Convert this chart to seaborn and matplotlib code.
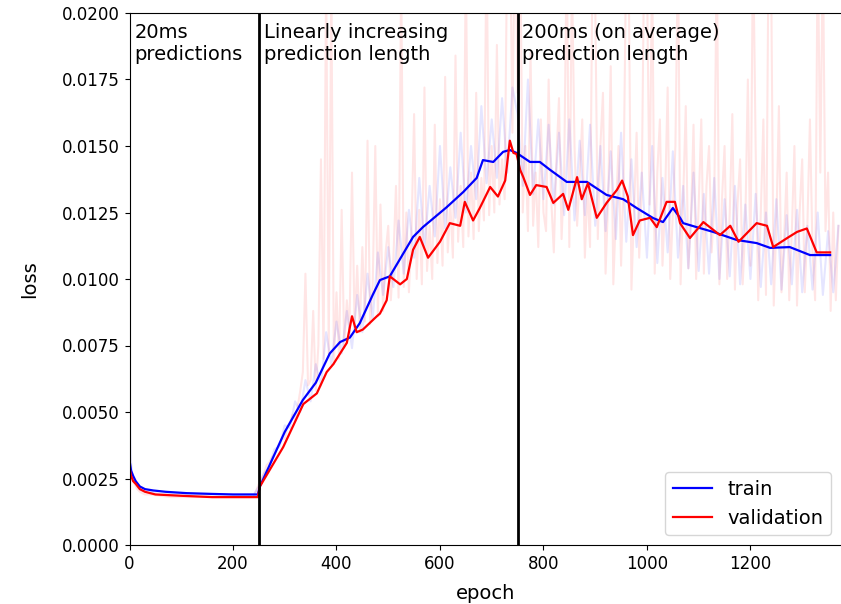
import numpy as np
import pandas as pd
import seaborn as sns
from matplotlib import pyplot as plt

# raw (unsmoothed) losses: phase 1 sampled irregularly, later phases sampled densely
raw_epochs_p1 = [0, 1, 2, 4, 6, 10, 15, 20, 30, 40, 60, 80, 100, 150, 200, 240]
raw_train_p1 = [0.0095, 0.0045, 0.0034, 0.0029, 0.0026, 0.0024, 0.0022, 0.0021,
                0.0020, 0.0020, 0.0019, 0.0019, 0.0019, 0.0019, 0.0019, 0.0019]
raw_val_p1 = [0.0036, 0.0030, 0.0028, 0.0026, 0.0025, 0.0023, 0.0021, 0.0020,
              0.0019, 0.0019, 0.00185, 0.0018, 0.0018, 0.0018, 0.0018, 0.0018]

# train raw, every 10 epochs from 250
raw_train_epochs = list(range(250, 1380, 10))
raw_train_rest = [
    0.0022, 0.0027, 0.0029, 0.0036, 0.0037, 0.0045, 0.0044, 0.0054, 0.0050, 0.0062,
    0.0054, 0.0068, 0.0060, 0.0080, 0.0068, 0.0084, 0.0072, 0.0088, 0.0074, 0.0094,
    0.0080, 0.0102, 0.0085, 0.0110, 0.0094, 0.0112, 0.0097, 0.0122, 0.0102, 0.0126,
    0.0108, 0.0138, 0.0112, 0.0135, 0.0116, 0.0150, 0.0119, 0.0142, 0.0123, 0.0155,
    0.0125, 0.0150, 0.0130, 0.0165, 0.0136, 0.0160, 0.0138, 0.0168, 0.0140, 0.0172,
    0.0162, 0.0135, 0.0175, 0.0132, 0.0160, 0.0130, 0.0158, 0.0128, 0.0155, 0.0124,
    0.0160, 0.0122, 0.0152, 0.0124, 0.0158, 0.0120, 0.0150, 0.0118, 0.0148, 0.0115,
    0.0155, 0.0114, 0.0145, 0.0112, 0.0140, 0.0108, 0.0150, 0.0106, 0.0138, 0.0110,
    0.0148, 0.0108, 0.0135, 0.0104, 0.0140, 0.0103, 0.0132, 0.0102, 0.0138, 0.0100,
    0.0130, 0.0101, 0.0135, 0.0098, 0.0128, 0.0100, 0.0132, 0.0097, 0.0125, 0.0098,
    0.0130, 0.0096, 0.0124, 0.0098, 0.0126, 0.0095, 0.0120, 0.0096, 0.0125, 0.0094,
    0.0118, 0.0095, 0.0120]

# validation raw, every 5 epochs from 250
raw_val_epochs = list(range(250, 1375, 5))
raw_val_rest = [
    0.0023, 0.0025, 0.0027, 0.0030, 0.0031, 0.0033, 0.0034, 0.0036, 0.0038, 0.0040,
    0.0040, 0.0044, 0.0046, 0.0049, 0.0047, 0.0052, 0.0058, 0.0065, 0.0102, 0.0060,
    0.0062, 0.0088, 0.0058, 0.0075, 0.0145, 0.0070, 0.0215, 0.0072, 0.0210, 0.0068,
    0.0095, 0.0070, 0.0126, 0.0074, 0.0092, 0.0080, 0.0140, 0.0082, 0.0105, 0.0080,
    0.0112, 0.0084, 0.0152, 0.0083, 0.0098, 0.0150, 0.0086, 0.0128, 0.0088, 0.0110,
    0.0120, 0.0092, 0.0108, 0.0135, 0.0093, 0.0215, 0.0097, 0.0125, 0.0095, 0.0118,
    0.0162, 0.0100, 0.0126, 0.0098, 0.0172, 0.0103, 0.0120, 0.0100, 0.0158, 0.0106,
    0.0130, 0.0105, 0.0176, 0.0110, 0.0128, 0.0108, 0.0184, 0.0114, 0.0135, 0.0112,
    0.0220, 0.0116, 0.0140, 0.0115, 0.0170, 0.0118, 0.0138, 0.0122, 0.0230, 0.0124,
    0.0150, 0.0125, 0.0188, 0.0128, 0.0145, 0.0130, 0.0230, 0.0240, 0.0155, 0.0240,
    0.0170, 0.0230, 0.0125, 0.0150, 0.0118, 0.0185, 0.0120, 0.0140, 0.0112, 0.0160,
    0.0125, 0.0118, 0.0175, 0.0130, 0.0110, 0.0145, 0.0168, 0.0115, 0.0140, 0.0225,
    0.0112, 0.0215, 0.0150, 0.0120, 0.0138, 0.0160, 0.0108, 0.0135, 0.0112, 0.0225,
    0.0205, 0.0115, 0.0150, 0.0170, 0.0102, 0.0130, 0.0180, 0.0098, 0.0125, 0.0150,
    0.0105, 0.0140, 0.0225, 0.0210, 0.0096, 0.0125, 0.0155, 0.0108, 0.0135, 0.0230,
    0.0215, 0.0128, 0.0220, 0.0102, 0.0140, 0.0160, 0.0105, 0.0130, 0.0172, 0.0100,
    0.0125, 0.0150, 0.0225, 0.0098, 0.0130, 0.0165, 0.0104, 0.0122, 0.0158, 0.0100,
    0.0128, 0.0160, 0.0102, 0.0135, 0.0150, 0.0110, 0.0128, 0.0225, 0.0098, 0.0130,
    0.0150, 0.0100, 0.0125, 0.0162, 0.0096, 0.0128, 0.0145, 0.0098, 0.0120, 0.0175,
    0.0105, 0.0230, 0.0150, 0.0092, 0.0125, 0.0160, 0.0094, 0.0225, 0.0215, 0.0090,
    0.0120, 0.0165, 0.0095, 0.0115, 0.0140, 0.0092, 0.0118, 0.0150, 0.0090, 0.0125,
    0.0145, 0.0095, 0.0120, 0.0160, 0.0110, 0.0092, 0.0230, 0.0140, 0.0225, 0.0118,
    0.0140, 0.0088, 0.0125, 0.0092, 0.0120]

# smoothed curves
train_epochs = [0, 3, 7, 12, 20, 30, 46, 70, 110, 160, 200, 240, 248, 252, 300, 335,
                360, 387, 407, 426, 445, 470, 484, 503, 548, 567, 613, 645, 671, 683,
                703, 722, 735, 748, 774, 793, 813, 845, 884, 922, 954, 980, 1012, 1031,
                1050, 1064, 1070, 1096, 1128, 1173, 1212, 1238, 1276, 1315, 1354]
train_loss = [0.0032, 0.0028, 0.0026, 0.0024, 0.0022, 0.0021, 0.00205, 0.0020, 0.00195,
              0.00192, 0.0019, 0.0019, 0.0019, 0.0022, 0.00425, 0.00545, 0.0061, 0.0072,
              0.00763, 0.0078, 0.00834, 0.0094, 0.00996, 0.0101, 0.01158, 0.01195, 0.0127,
              0.01327, 0.0138, 0.01447, 0.0144, 0.01478, 0.01485, 0.01474, 0.0144, 0.0144,
              0.0141, 0.01365, 0.01365, 0.01316, 0.0130, 0.01267, 0.01229, 0.01214,
              0.01267, 0.0123, 0.0121, 0.01195, 0.01177, 0.01147, 0.01135, 0.01117,
              0.0112, 0.0109, 0.0109]

val_epochs = [0, 3, 7, 12, 20, 30, 50, 100, 160, 240, 248, 252, 297, 336, 362, 381, 394,
              420, 430, 439, 451, 478, 484, 497, 503, 523, 536, 548, 561, 577, 600, 619,
              639, 648, 664, 677, 697, 712, 726, 735, 742, 748, 755, 761, 774, 786, 806,
              819, 838, 848, 865, 874, 886, 903, 922, 942, 952, 963, 973, 986, 1006,
              1019, 1038, 1054, 1064, 1083, 1109, 1141, 1161, 1177, 1199, 1212, 1232,
              1244, 1271, 1290, 1309, 1328, 1354]
val_loss = [0.0029, 0.0026, 0.0024, 0.0023, 0.0021, 0.0020, 0.0019, 0.00185, 0.0018,
            0.0018, 0.0018, 0.0022, 0.00368, 0.0053, 0.0057, 0.0065, 0.0068, 0.0076,
            0.0086, 0.0080, 0.0081, 0.0086, 0.0087, 0.0092, 0.0101, 0.0098, 0.0100,
            0.0111, 0.01158, 0.0108, 0.0114, 0.0121, 0.0120, 0.0129, 0.0122, 0.01267,
            0.01346, 0.0131, 0.0137, 0.0152, 0.01474, 0.0147, 0.0141, 0.01383, 0.01316,
            0.01353, 0.01346, 0.01286, 0.0132, 0.0126, 0.01383, 0.0130, 0.0136, 0.0123,
            0.01286, 0.01335, 0.0137, 0.0131, 0.01165, 0.0122, 0.0123, 0.01195, 0.0129,
            0.0129, 0.0121, 0.01154, 0.01214, 0.01165, 0.0120, 0.0114, 0.01184, 0.0121,
            0.0120, 0.0112, 0.01154, 0.01177, 0.0119, 0.0110, 0.0110]

phase_edges = [250, 750]
phase_labels = ["20ms\npredictions", "Linearly increasing\nprediction length",
                "200ms (on average)\nprediction length"]
phase_label_x = [10, 260, 759]

raw_train_df = pd.DataFrame({"epoch": raw_epochs_p1 + raw_train_epochs,
                             "loss": raw_train_p1 + raw_train_rest})
raw_val_df = pd.DataFrame({"epoch": raw_epochs_p1 + raw_val_epochs,
                           "loss": raw_val_p1 + raw_val_rest})
train_df = pd.DataFrame({"epoch": train_epochs, "loss": train_loss})
val_df = pd.DataFrame({"epoch": val_epochs, "loss": val_loss})

fig = plt.figure(figsize=(8.41, 6.04), dpi=100)
ax = fig.add_axes([129.5 / 841, 59 / 604, (841 - 129.5) / 841, 532 / 604])

# faint raw curves
sns.lineplot(data=raw_val_df, x="epoch", y="loss", ax=ax, color="red",
             alpha=0.1, linewidth=1.5, legend=False)
sns.lineplot(data=raw_train_df, x="epoch", y="loss", ax=ax, color="blue",
             alpha=0.1, linewidth=1.5, legend=False)

# smoothed curves
sns.lineplot(data=train_df, x="epoch", y="loss", ax=ax, color="blue",
             linewidth=1.6, label="train")
sns.lineplot(data=val_df, x="epoch", y="loss", ax=ax, color="red",
             linewidth=1.6, label="validation")

for xe in phase_edges:
    ax.axvline(xe, color="black", linewidth=2)
for xt, txt in zip(phase_label_x, phase_labels):
    ax.text(xt, 0.01962, txt, fontsize=14, va="top", ha="left")

ax.set_xlim(0, 1375)
ax.set_ylim(0, 0.02)
yt = np.arange(0, 0.02001, 0.0025)
ax.set_yticks(yt)
ax.set_yticklabels([f"{v:.4f}" for v in yt])
ax.spines["right"].set_visible(False)
ax.tick_params(labelsize=12)
ax.set_xlabel("epoch", fontsize=14, labelpad=8)
ax.set_ylabel("loss", fontsize=14, labelpad=16)
ax.legend(loc="lower right", fontsize=14)

fig.savefig("out.png", dpi=100)
